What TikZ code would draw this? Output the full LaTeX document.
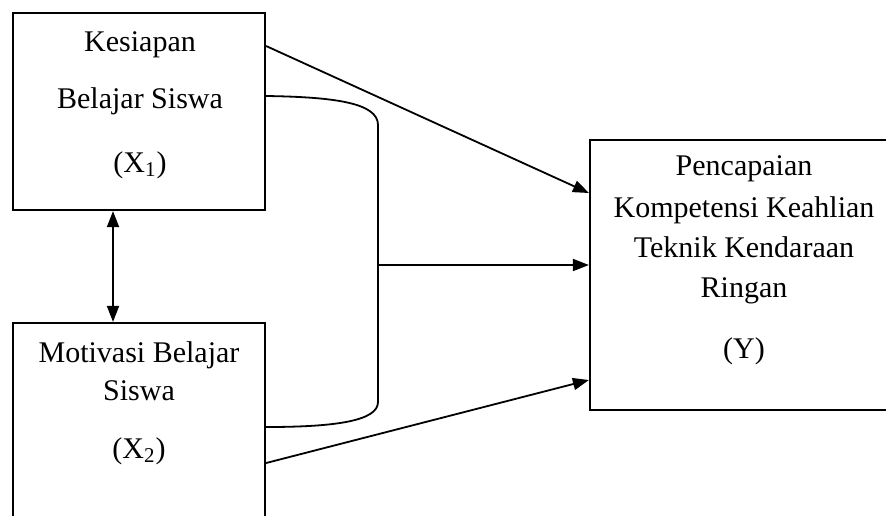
\documentclass[tikz,border=0pt]{standalone}
\usepackage{fontspec}
\setmainfont{Liberation Serif}
\usetikzlibrary{arrows.meta, positioning, calc}

\begin{document}
\begin{tikzpicture}[x=0.5pt, y=-0.5pt,
  box/.style={draw, rectangle, line width=1.1pt, inner sep=0pt},
  lbl/.style={anchor=base, inner sep=0pt, font=\fontsize{15pt}{18pt}\selectfont},
  >={Triangle[length=8pt,width=6pt]}]
  \useasboundingbox (0,0) rectangle (886,515);
  \clip (0,0) rectangle (886,515);

  \node[box, minimum width=126pt, minimum height=98.5pt] (X1) at (139,111.5) {};
  \node[box, minimum width=126pt, minimum height=120pt] (X2) at (139,443) {};
  \node[box, minimum width=152pt, minimum height=135pt] (Y) at (742,275) {};

  \foreach \t/\yy [count=\i] in {Kesiapan/51, Belajar Siswa/108, {(X\textsubscript{1})}/172}
    \node[lbl] (tx1\i) at (140,\yy) {\t};
  \foreach \t/\yy [count=\i] in {Motivasi Belajar/362, Siswa/400, {(X\textsubscript{2})}/458}
    \node[lbl] (tx2\i) at (139,\yy) {\t};
  \foreach \t/\yy [count=\i] in {Pencapaian/175, Kompetensi Keahlian/217, Teknik Kendaraan/257, Ringan/297, (Y)/358}
    \node[lbl] (ty\i) at (744,\yy) {\t};

  \coordinate (bt) at (378,125);
  \coordinate (bm) at (378,265);
  \coordinate (bb) at (378,402);

  \begin{scope}[line width=0.9pt]
    \draw (X1.east |- 0,96) .. controls (335,97) and (378,103) .. (bt) -- (bb)
      .. controls (378,421) and (335,427) .. (X2.east |- 0,427);
    \draw[->] (X1.east |- 0,46) -- (Y.west |- 0,193);
    \draw[->] (bm) -- (Y.west |- bm);
    \draw[->] (X2.east |- 0,463) -- (Y.west |- 0,380);
    \draw[<->] (X1.south -| 113,0) -- (X2.north -| 113,0);
  \end{scope}
\end{tikzpicture}
\end{document}
